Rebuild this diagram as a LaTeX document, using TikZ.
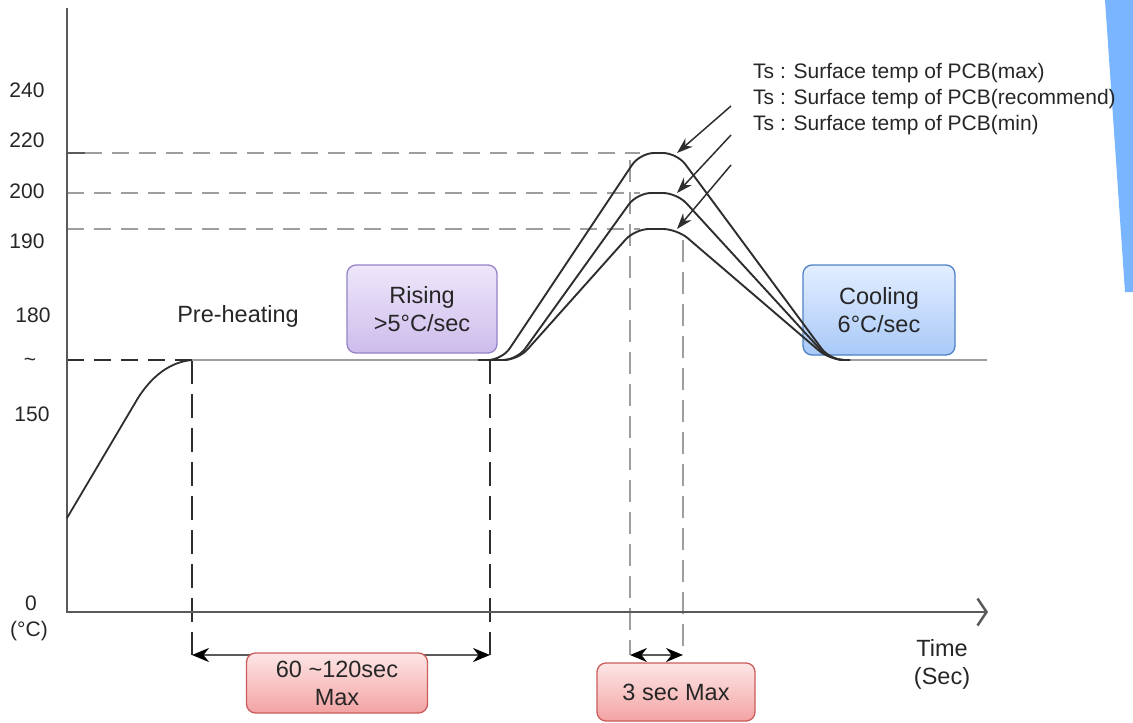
\documentclass[tikz,border=0pt]{standalone}
\usepackage{fontspec}
\setmainfont{Liberation Sans}
\usetikzlibrary{arrows.meta}
\definecolor{axisgray}{HTML}{5A5A5A}
\definecolor{guidegray}{HTML}{9E9E9E}
\definecolor{curvedark}{HTML}{2E2E2E}
\definecolor{stripblue}{HTML}{79B6FF}
\definecolor{risingline}{HTML}{9583C8}
\definecolor{risingtop}{HTML}{EEE7FA}
\definecolor{risingbot}{HTML}{CDBCEC}
\definecolor{coolline}{HTML}{4D82C4}
\definecolor{cooltop}{HTML}{E3EEFF}
\definecolor{coolbot}{HTML}{A9C9F8}
\definecolor{pinkline}{HTML}{CC5B5B}
\definecolor{pinktop}{HTML}{FDE6E6}
\definecolor{pinkbot}{HTML}{F3A3A3}
\tikzset{
  lbl/.style={font=\fontsize{21}{24}\selectfont, text=black!85},
  tslbl/.style={font=\fontsize{21}{26}\selectfont, text=black!85, anchor=west, inner sep=0pt},
  boxtext/.style={font=\fontsize{23.5}{28}\selectfont, text=black!85, align=center},
  phase/.style={boxtext, draw, line width=1.3pt, rounded corners=9pt, inner sep=0pt},
  axisline/.style={axisgray, line width=2.8pt},
  guide/.style={guidegray, line width=2.8pt, dash pattern=on 17pt off 10pt},
  guidev/.style={guidegray, line width=2.6pt, dash pattern=on 22pt off 10pt},
  blackdash/.style={curvedark, line width=2.3pt, dash pattern=on 17pt off 10pt},
  blackdashv/.style={curvedark, line width=2.3pt, dash pattern=on 24pt off 10pt},
  plateau/.style={guidegray, line width=2.8pt},
  profile/.style={curvedark, line width=1.9pt, rounded corners=14pt},
  ptr/.style={curvedark, line width=1.5pt, -{Stealth[length=16pt, width=11pt]}},
  dim/.style={axisgray, line width=2.2pt, {Stealth[length=17pt, width=14pt, black]}-{Stealth[length=17pt, width=14pt, black]}}
}
\begin{document}
\begin{tikzpicture}[x=1pt, y=-1pt]
  \useasboundingbox (0,0) rectangle (1133,723);
  \fill[stripblue] (1105,0) -- (1133,0) -- (1133,292) -- (1125,292) -- cycle;

  % key points
  \coordinate (ytop) at (67,8);
  \coordinate (O) at (67,612);
  \coordinate (xend) at (988,612);
  \coordinate (s0) at (67,518);
  \coordinate (p1) at (192,360);
  \coordinate (p2) at (490,360);
  \coordinate (a1) at (192,655);
  \coordinate (a2) at (490,655);
  \coordinate (b1) at (630,655);
  \coordinate (b2) at (683,655);
  \coordinate (maxR) at (677,153);
  \coordinate (recR) at (677,193);
  \coordinate (minR) at (677,229);
  \coordinate (t1) at (731,106);
  \coordinate (t2) at (731,135);
  \coordinate (t3) at (731,165);

  % y labels
  \node[lbl] (y240) at (27,90) {240};
  \node[lbl] (y220) at (27,140) {220};
  \node[lbl] (y200) at (27,191) {200};
  \node[lbl] (y190) at (27,241) {190};
  \node[lbl] (y180) at (33,315) {180};
  \node[lbl] (ytil) at (30,362) {\textasciitilde};
  \node[lbl] (y150) at (32,414) {150};
  \node[lbl] (y0) at (31,603) {0};
  \node[lbl] (yunit) at (29,631) {(\textdegree C)};

  % guides
  \draw[guide] (85,153) -- (640,153);
  \draw[guide] (67,193) -- (640,193);
  \draw[guide] (67,229) -- (640,229);
  \draw[guidev] (630,160) -- (b1);
  \draw[guidev] (683,240) -- (b2);
  \draw[blackdash] (67,360) -- (p1);
  \draw[blackdashv] (p1) -- (a1);
  \draw[blackdashv] (p2) -- (a2);

  % axes
  \draw[axisline] (67,153) -- (85,153);
  \draw[axisline, -{Straight Barb[length=9pt, width=27pt, line width=2.5pt]}] (ytop) -- (O) -- (xend);

  % phases
  \node[boxtext] (preheat) at (238,316) {Pre-heating};
  \node[phase, draw=risingline, top color=risingtop, bottom color=risingbot,
    minimum width=150pt, minimum height=88pt] (rising) at (422,309) {Rising\\>5\textdegree C/sec};
  \node[phase, draw=coolline, top color=cooltop, bottom color=coolbot,
    minimum width=152pt, minimum height=90pt] (cooling) at (879,310) {Cooling\\6\textdegree C/sec};

  % profile
  \draw[curvedark, line width=1.8pt] (s0) -- (138,398) .. controls (152,376) and (170,362) .. (p1);
  \draw[plateau] (p1) -- (p2);
  \draw[plateau] (840,360) -- (987,360);
  \draw[profile] (478,360) -- (502,360) -- (640,153) -- (maxR) -- (830,360) -- (850,360);
  \draw[profile] (478,360) -- (517,360) -- (637,193) -- (recR) -- (830,360) -- (850,360);
  \draw[profile] (478,360) -- (518,360) -- (635,229) -- (minR) -- (830,360) -- (850,360);

  % Ts pointers
  \draw[ptr] (t1) -- (maxR);
  \draw[ptr] (t2) -- (recR);
  \draw[ptr] (t3) -- (minR);
  \node[tslbl] (tsmax) at (753,73) {Ts : Surface temp of PCB(max)};
  \node[tslbl] (tsrec) at (753,99) {Ts : Surface temp of PCB(recommend)};
  \node[tslbl] (tsmin) at (753,125) {Ts : Surface temp of PCB(min)};

  % durations
  \draw[dim] (a1) -- (a2);
  \draw[dim] (b1) -- (b2);
  \node[phase, draw=pinkline, top color=pinktop, bottom color=pinkbot,
    minimum width=181pt, minimum height=60pt] (dwell) at (337,683) {60 \textasciitilde120sec\\Max};
  \node[phase, draw=pinkline, top color=pinktop, bottom color=pinkbot,
    minimum width=158pt, minimum height=58pt] (peak) at (676,692) {3 sec Max};
  \node[boxtext] (tlab) at (942,664) {Time\\(Sec)};
\end{tikzpicture}
\end{document}
